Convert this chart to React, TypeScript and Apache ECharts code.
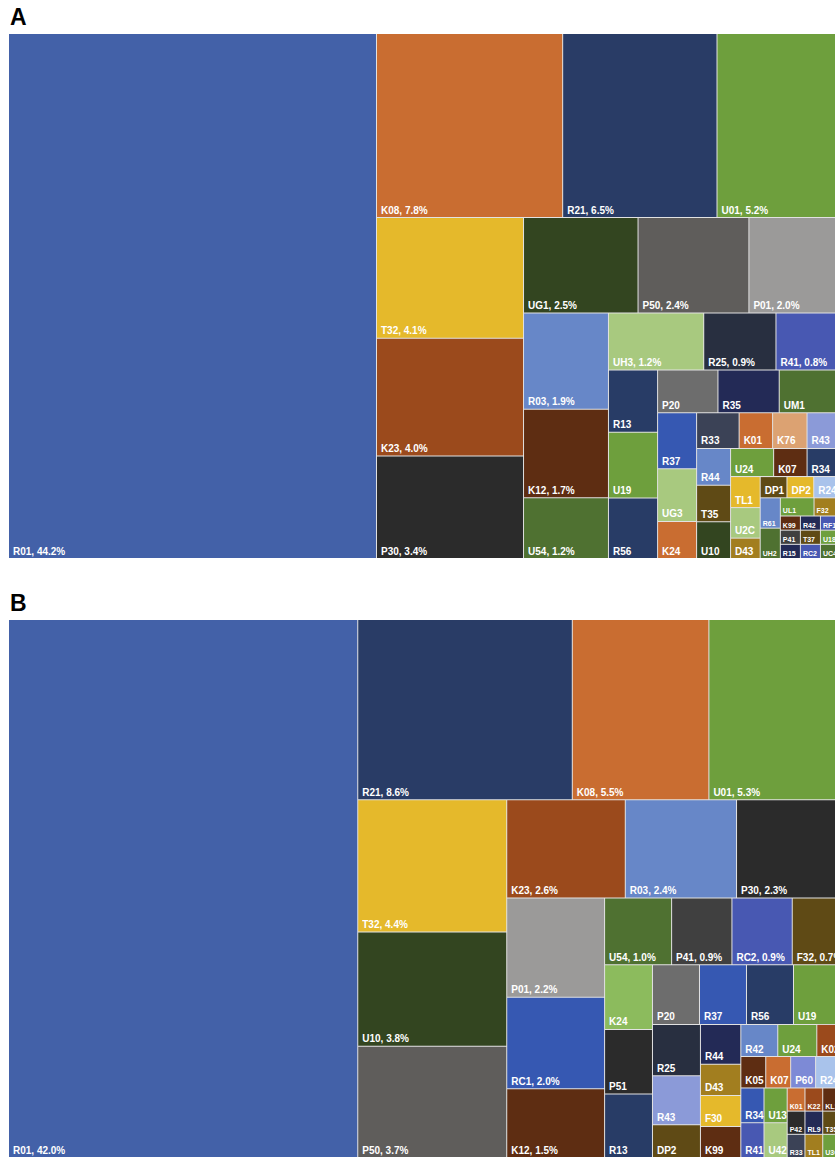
import React, { useEffect, useRef } from "react";
import * as echarts from "echarts";

// ---------- Panel A data (share of total, %) ----------
const namesA = [
  "R01", "K08", "R21", "U01", "T32", "K23", "P30", "UG1", "P50", "P01",
  "R03", "K12", "U54", "UH3", "R25", "R41", "R13", "U19", "R56", "P20",
  "R35", "UM1", "R37", "UG3", "K24", "R33", "K01", "K76", "R43", "R44",
  "T35", "U10", "U24", "K07", "R34", "TL1", "U2C", "D43", "DP1", "DP2",
  "R24", "R61", "UH2", "UL1", "F32", "K99", "P41", "R15", "R42", "RF1",
  "T37", "RC2", "U18", "UC4",
];
const valuesA = [
  44.2, 7.84, 6.5, 5.2, 4.06, 3.96, 3.449, 2.5, 2.42, 2.0,
  1.87, 1.72, 1.18, 1.24, 0.94, 0.84, 0.70, 0.74, 0.68, 0.593,
  0.602, 0.602, 0.50, 0.469, 0.331, 0.347, 0.273, 0.281, 0.273, 0.285,
  0.285, 0.285, 0.277, 0.215, 0.215, 0.21, 0.207, 0.138, 0.13, 0.13,
  0.13, 0.14, 0.14, 0.14, 0.11, 0.065, 0.065, 0.065, 0.065, 0.065,
  0.065, 0.065, 0.065, 0.065,
];

// ---------- Panel B data (share of total, %) ----------
const namesB = [
  "R01", "R21", "K08", "U01", "T32", "U10", "P50", "K23", "R03", "P30",
  "P01", "RC1", "K12", "U54", "P41", "RC2", "F32", "K24", "P51", "R13",
  "P20", "R37", "R56", "U19", "R25", "R43", "DP2", "R44", "D43", "F30",
  "K99", "R42", "U24", "K02", "K05", "K07", "P60", "R24", "R34", "R41",
  "U13", "U42", "K01", "K22", "KL1", "P42", "R33", "RL9", "T35", "TL1",
  "U3C",
];
const valuesB = [
  41.96, 8.64, 5.5, 5.3, 4.4, 3.8, 3.7, 2.6, 2.44, 2.28,
  2.17, 2.0, 1.5, 1.0, 0.9, 0.9, 0.72, 0.69, 0.69, 0.68,
  0.625, 0.625, 0.625, 0.625, 0.549, 0.527, 0.35, 0.36, 0.28, 0.28,
  0.28, 0.265, 0.28, 0.17, 0.175, 0.175, 0.175, 0.175, 0.18, 0.18,
  0.18, 0.18, 0.092, 0.092, 0.092, 0.092, 0.092, 0.092, 0.092, 0.092,
  0.092,
];

// ---------- styles ----------
const colorsA = [
  "#4361a8", "#c96d31", "#293c66", "#6e9f3d", "#e5b92b", "#9b4a1c", "#2b2b2b", "#334520", "#5f5d5b", "#9b9a99",
  "#6787c8", "#5e2d12", "#4f7131", "#a8c97f", "#282f40", "#4858b2", "#283c66", "#6e9f3d", "#283c66", "#6d6d6d",
  "#232a56", "#4f7131", "#3658b2", "#a8c97f", "#c96d31", "#3b4256", "#c96d31", "#dca272", "#8b9ad8", "#6787c8",
  "#5f4a15", "#334520", "#6e9f3d", "#5e2d12", "#283c66", "#e5b92b", "#a8c97f", "#a27e1f", "#5f4a15", "#e5b92b",
  "#a9c3eb", "#6787c8", "#4f7131", "#6e9f3d", "#a27e1f", "#5e2d12", "#404040", "#232a56", "#232a56", "#4858b2",
  "#5f4a15", "#4858b2", "#6e9f3d", "#4f7131",
];
const colorsB = [
  "#4361a8", "#293c66", "#c96d31", "#6e9f3d", "#e5b92b", "#334520", "#5f5d5b", "#9b4a1c", "#6787c8", "#2b2b2b",
  "#9b9a99", "#3658b2", "#5e2d12", "#4f7131", "#404040", "#4858b2", "#5f4a15", "#8cbb5d", "#2b2b2b", "#283c66",
  "#6d6d6d", "#3658b2", "#283c66", "#6e9f3d", "#282f40", "#8b9ad8", "#5f4a15", "#232a56", "#a27e1f", "#e5b92b",
  "#5e2d12", "#6787c8", "#6e9f3d", "#9b4a1c", "#5e2d12", "#c96d31", "#7d8ad6", "#a9c3eb", "#3658b2", "#4858b2",
  "#6e9f3d", "#a8c97f", "#c96d31", "#9b4a1c", "#5e2d12", "#2b2b2b", "#3b4256", "#232a56", "#5f4a15", "#a27e1f",
  "#6e9f3d",
];
const smallLabelsA = new Set(["R61", "UH2", "UL1", "F32", "K99", "P41", "R15", "R42", "RF1", "T37", "RC2", "U18", "UC4"]);
const smallLabelsB = new Set(["K01", "K22", "KL1", "P42", "R33", "RL9", "T35", "TL1", "U3C"]);

const FONT = '"Liberation Sans", Arial, Helvetica, sans-serif';

const smallLabel = { fontSize: 7, padding: [0, 0, 1, 2] };

function buildData(names: string[], values: number[], colors: string[], small: Set<string>) {
  return names.map((name, i) => ({
    name,
    value: values[i],
    itemStyle: { color: colors[i] },
    label: small.has(name) ? smallLabel : undefined,
  }));
}

function treemapSeries(data: any[], top: number, height: number, valueMin: number) {
  return {
    type: "treemap",
    left: 9,
    top,
    width: 831,
    height,
    data,
    sort: false,
    squareRatio: 0.96,
    roam: false,
    nodeClick: false,
    silent: true,
    breadcrumb: { show: false },
    itemStyle: { borderWidth: 0, gapWidth: 1, borderColor: "#e2e2e2" },
    upperLabel: { show: false },
    label: {
      show: true,
      position: "insideBottomLeft",
      distance: 0,
      padding: [0, 0, 2, 4],
      color: "#ffffff",
      fontSize: 10,
      fontWeight: "bold",
      fontFamily: FONT,
      overflow: "none",
      formatter: (p: any) =>
        p.value >= valueMin ? `${p.name}, ${Number(p.value).toFixed(1)}%` : p.name,
    },
  };
}

export default function App() {
  const ref = useRef<HTMLDivElement>(null);
  useEffect(() => {
    if (!ref.current) return;
    const chart = echarts.init(ref.current, null, { renderer: "svg" });
    chart.setOption({
      animation: false,
      backgroundColor: "#ffffff",
      graphic: [
        {
          type: "text",
          left: 10,
          top: 5,
          style: { text: "A", font: `bold 23px ${FONT}`, fill: "#000" },
        },
        {
          type: "text",
          left: 10,
          top: 591,
          style: { text: "B", font: `bold 23px ${FONT}`, fill: "#000" },
        },
      ],
      series: [
        treemapSeries(buildData(namesA, valuesA, colorsA, smallLabelsA), 34, 524, 0.78),
        treemapSeries(buildData(namesB, valuesB, colorsB, smallLabelsB), 620, 537, 0.7),
      ],
    });
    return () => chart.dispose();
  }, []);
  return (
    <div
      style={{
        position: "fixed",
        left: 0,
        top: 0,
        width: "100vw",
        height: "100vh",
        overflow: "hidden",
        background: "#fff",
      }}
    >
      <div ref={ref} style={{ position: "absolute", left: 0, top: 0, width: 850, height: 1161 }} />
    </div>
  );
}
